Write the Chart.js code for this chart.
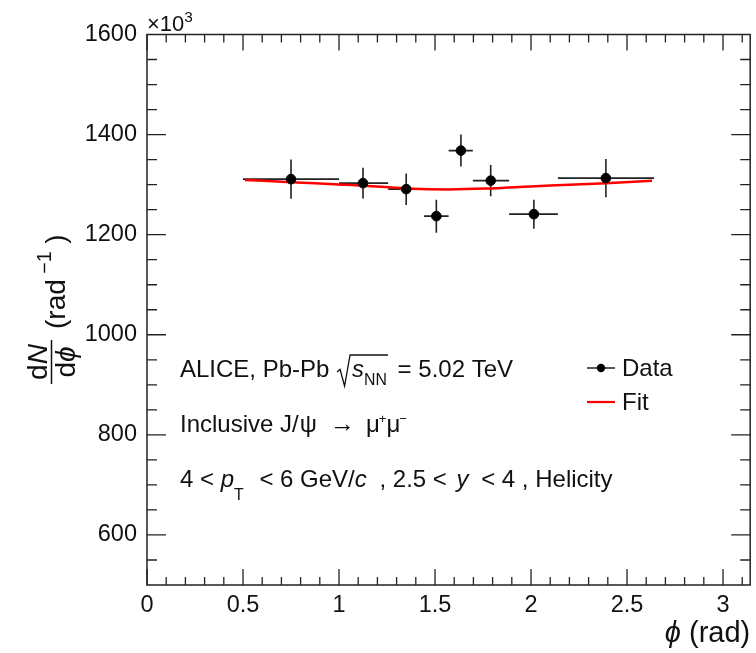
<!DOCTYPE html>
<html>
<head>
<meta charset="utf-8">
<script src="https://cdn.jsdelivr.net/npm/chart.js@4.4.0/dist/chart.umd.min.js"></script>
<style>
  body { margin: 0; background: #fff; }
  canvas { display: block; }
</style>
</head>
<body>
<canvas id="chart" width="756" height="653"></canvas>
<script>
// bins in phi (rad), symmetric around pi/2
const phiCenters = [0.75, 1.125, 1.35, 1.507, 1.635, 1.79, 2.015, 2.39];
const phiLow     = [0.5, 1.0, 1.256, 1.443, 1.571, 1.697, 1.886, 2.14];
const phiHigh    = [1.0, 1.256, 1.443, 1.571, 1.697, 1.886, 2.14, 2.641];
const counts     = [1311, 1303, 1291, 1237, 1368, 1308, 1241, 1313];
const countErr   = [39, 30.5, 31.5, 33, 32, 31, 29, 38];

// fit curve
const fitPhi    = [0.51, 0.75, 1.0, 1.13, 1.35, 1.57, 1.79, 2.0, 2.2, 2.39, 2.63];
const fitCounts = [1309.5, 1305, 1300.5, 1298, 1292.5, 1290.5, 1292.5, 1296.5, 1300, 1303, 1308];

const xTicks = [0, 0.5, 1, 1.5, 2, 2.5, 3];
const yTicks = [600, 800, 1000, 1200, 1400, 1600];

const FONT = '"Liberation Sans", Arial, Helvetica, sans-serif';
const INK = '#111';

function drawRich(ctx, x, y, parts, size) {
  let cx = x;
  parts.forEach(p => {
    const s = size * (p.scale || 1);
    ctx.font = (p.it ? 'italic ' : '') + s + 'px ' + FONT;
    ctx.fillText(p.t, cx, y + (p.dy || 0));
    cx += ctx.measureText(p.t).width + (p.gap || 0);
  });
  return cx;
}

function richWidth(ctx, parts, size) {
  let w = 0;
  parts.forEach(p => {
    const s = size * (p.scale || 1);
    ctx.font = (p.it ? 'italic ' : '') + s + 'px ' + FONT;
    w += ctx.measureText(p.t).width + (p.gap || 0);
  });
  return w;
}

const errorBars = {
  id: 'errorBars',
  beforeDatasetsDraw(chart) {
    const {ctx, scales: {x, y}} = chart;
    ctx.save();
    ctx.strokeStyle = '#222';
    ctx.lineWidth = 1.6;
    phiCenters.forEach((c, i) => {
      const px = x.getPixelForValue(c);
      const py = y.getPixelForValue(counts[i]);
      ctx.beginPath();
      ctx.moveTo(x.getPixelForValue(phiLow[i]), py);
      ctx.lineTo(x.getPixelForValue(phiHigh[i]), py);
      ctx.moveTo(px, y.getPixelForValue(counts[i] + countErr[i]));
      ctx.lineTo(px, y.getPixelForValue(counts[i] - countErr[i]));
      ctx.stroke();
    });
    ctx.restore();
  }
};

const frame = {
  id: 'frame',
  afterDraw(chart) {
    const {ctx, chartArea: a, scales: {x, y}} = chart;
    ctx.save();
    ctx.strokeStyle = '#222';
    ctx.lineWidth = 1.5;
    ctx.strokeRect(a.left, a.top, a.right - a.left, a.bottom - a.top);

    // ticks pointing inward on all four sides
    ctx.lineWidth = 1.3;
    ctx.beginPath();
    for (let k = 0; k <= 31; k++) {
      const v = k / 10;
      const px = x.getPixelForValue(v);
      const len = k % 5 === 0 ? 16 : 8;
      ctx.moveTo(px, a.bottom); ctx.lineTo(px, a.bottom - len);
      ctx.moveTo(px, a.top); ctx.lineTo(px, a.top + len);
    }
    for (let v = 550; v < 1600; v += 50) {
      const py = y.getPixelForValue(v);
      const len = v % 200 === 0 ? 19 : 10;
      ctx.moveTo(a.left, py); ctx.lineTo(a.left + len, py);
      ctx.moveTo(a.right, py); ctx.lineTo(a.right - len, py);
    }
    ctx.stroke();

    ctx.fillStyle = INK;
    ctx.textAlign = 'left';
    ctx.textBaseline = 'alphabetic';

    // exponent label
    drawRich(ctx, a.left, 31, [{t: '\u00d710'}, {t: '3', scale: 0.7, dy: -9}], 22);

    // text block
    const ts = 24;
    const rStart = drawRich(ctx, 180, 377, [{t: 'ALICE, Pb-Pb '}], ts) + 1;
    const ex = drawRich(ctx, rStart + 15, 377,
      [{t: 's', it: true}, {t: 'NN', scale: 0.66, dy: 8}], ts);
    ctx.strokeStyle = INK;
    ctx.lineWidth = 1.3;
    ctx.beginPath();
    ctx.moveTo(rStart, 372);
    ctx.lineTo(rStart + 3, 369.5);
    ctx.lineTo(rStart + 7.5, 386);
    ctx.lineTo(rStart + 13, 355);
    ctx.lineTo(ex + 1, 355);
    ctx.stroke();
    drawRich(ctx, ex + 4, 377, [{t: ' = 5.02 TeV'}], ts);

    drawRich(ctx, 180, 432, [
      {t: 'Inclusive J/', gap: 1}, {t: '\u03c8', gap: 6}, {t: ' \u2192 ', scale: 1.05, gap: 4},
      {t: '\u03bc', gap: -1}, {t: '+', scale: 0.55, dy: -9},
      {t: '\u03bc', gap: -1}, {t: '\u2212', scale: 0.55, dy: -9}
    ], ts);

    drawRich(ctx, 180, 487, [
      {t: '4 < '}, {t: 'p', it: true}, {t: 'T', scale: 0.66, dy: 13, gap: 9},
      {t: ' < 6 GeV/'}, {t: 'c', it: true, gap: 6}, {t: ' , 2.5 < ', gap: 3}, {t: 'y', it: true, gap: 6},
      {t: ' < 4 , Helicity'}
    ], ts);

    // legend
    ctx.strokeStyle = '#222';
    ctx.lineWidth = 1.5;
    ctx.beginPath();
    ctx.moveTo(587, 368); ctx.lineTo(615, 368);
    ctx.stroke();
    ctx.beginPath();
    ctx.arc(601, 368, 4.2, 0, Math.PI * 2);
    ctx.fillStyle = '#000';
    ctx.fill();
    ctx.strokeStyle = 'rgb(255,0,0)';
    ctx.lineWidth = 2.2;
    ctx.beginPath();
    ctx.moveTo(587, 402); ctx.lineTo(615, 402);
    ctx.stroke();
    ctx.fillStyle = INK;
    drawRich(ctx, 622, 376, [{t: 'Data'}], 24);
    drawRich(ctx, 622, 410, [{t: 'Fit'}], 24);

    // x title, right aligned
    const xt = [{t: '\u03d5', it: true}, {t: ' (rad)'}];
    const xs = 29;
    drawRich(ctx, a.right - richWidth(ctx, xt, xs), 642, xt, xs);

    // y title, rotated fraction
    ctx.save();
    ctx.translate(51.5, 362);
    ctx.rotate(-Math.PI / 2);
    const fs = 28;
    const num = [{t: 'd'}, {t: 'N', it: true}];
    const den = [{t: 'd'}, {t: '\u03d5', it: true}];
    const nw = richWidth(ctx, num, fs);
    const dw = richWidth(ctx, den, fs);
    drawRich(ctx, -nw / 2, -5, num, fs);
    drawRich(ctx, -dw / 2, 23, den, fs);
    ctx.strokeStyle = INK;
    ctx.lineWidth = 1.5;
    ctx.beginPath();
    ctx.moveTo(-22, 0); ctx.lineTo(22, 0);
    ctx.stroke();
    drawRich(ctx, 33, 13, [
      {t: '(rad'}, {t: ' \u22121', scale: 0.7, dy: -14}, {t: ' )'}
    ], fs);
    ctx.restore();

    ctx.restore();
  }
};

const tickFont = {family: FONT, size: 23.5};

new Chart(document.getElementById('chart'), {
  type: 'scatter',
  data: {
    datasets: [
      {
        label: 'Data',
        data: phiCenters.map((c, i) => ({x: c, y: counts[i]})),
        backgroundColor: '#000',
        borderColor: '#000',
        pointRadius: 4.8,
        pointHoverRadius: 4.8,
        showLine: false
      },
      {
        label: 'Fit',
        data: fitPhi.map((p, i) => ({x: p, y: fitCounts[i]})),
        borderColor: 'rgb(255,0,0)',
        borderWidth: 2.5,
        pointRadius: 0,
        showLine: true,
        tension: 0.4
      }
    ]
  },
  options: {
    responsive: false,
    animation: false,
    devicePixelRatio: 1,
    layout: {padding: {left: 0, top: 34.5, right: 3.3, bottom: 0}},
    plugins: {legend: {display: false}, tooltip: {enabled: false}},
    scales: {
      x: {
        type: 'linear',
        min: 0,
        max: Math.PI,
        grid: {display: false, drawTicks: false},
        border: {display: false},
        afterBuildTicks: s => { s.ticks = xTicks.map(v => ({value: v})); },
        afterFit: s => { s.height = 68; },
        ticks: {font: tickFont, color: INK, padding: 6, maxRotation: 0, autoSkip: false,
                callback: v => String(v)}
      },
      y: {
        type: 'linear',
        min: 500,
        max: 1600,
        grid: {display: false, drawTicks: false},
        border: {display: false},
        afterBuildTicks: s => { s.ticks = yTicks.map(v => ({value: v})); },
        afterFit: s => { s.width = 147; },
        ticks: {font: tickFont, color: INK, padding: 10, autoSkip: false,
                callback: v => String(v)}
      }
    }
  },
  plugins: [errorBars, frame]
});
</script>
</body>
</html>
